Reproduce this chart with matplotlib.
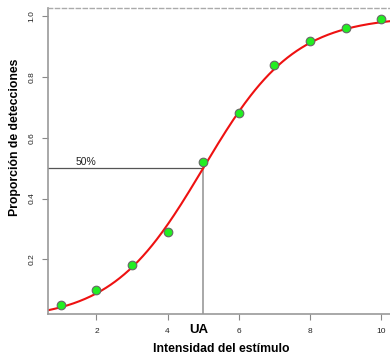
import matplotlib
matplotlib.use('Agg')
import matplotlib.pyplot as plt
import numpy as np

# Data
intensidad = [1, 2, 3, 4, 5, 6, 7, 8, 9, 10]
proporcion = [0.05, 0.10, 0.18, 0.29, 0.52, 0.68, 0.84, 0.92, 0.96, 0.99]

# fitted logistic curve parameters
umbral = 5.0      # UA, 50% point
pendiente = 0.78

x_ticks = [2, 4, 6, 8, 10]
y_ticks = [0.2, 0.4, 0.6, 0.8, 1.0]

plt.rcParams['font.family'] = ['Liberation Sans', 'DejaVu Sans']

fig = plt.figure(figsize=(3.9, 3.56), dpi=100)
ax = fig.add_axes([48 / 390, 42 / 356, 346 / 390, 306 / 356])

xc = np.linspace(0.64, 10.36, 300)
yc = 1.0 / (1.0 + np.exp(-pendiente * (xc - umbral)))

# 50% guide lines
ax.plot([0.64, umbral], [0.5, 0.5], color='#555555', lw=0.9, zorder=1)
ax.plot([umbral, umbral], [0.0, 0.5], color='#999999', lw=1.2, zorder=1)
ax.text(1.7, 0.505, '50%', fontsize=7.5, ha='center', va='bottom',
        color='#222222')

ax.plot(xc, yc, color='#ee1111', lw=1.5, zorder=2)
ax.plot(intensidad, proporcion, 'o', markersize=6.2,
        markerfacecolor='#22ee22', markeredgecolor='#666666',
        markeredgewidth=0.8, zorder=3)

ax.set_xlim(0.64, 10.36)
ax.set_ylim(0.02, 1.027)
ax.set_xticks(x_ticks)
ax.set_yticks(y_ticks)
ax.set_xticklabels([str(t) for t in x_ticks])
ax.set_yticklabels(['%.1f' % t for t in y_ticks], rotation=90, va='center')
ax.tick_params(axis='both', labelsize=6, length=4, width=0.8,
               color='#888888', labelcolor='#222222')
ax.tick_params(axis='x', pad=6)
ax.tick_params(axis='y', pad=5)

for side in ['left', 'bottom']:
    ax.spines[side].set_color('#999999')
    ax.spines[side].set_linewidth(1.2)
ax.spines['top'].set_color('#aaaaaa')
ax.spines['top'].set_linestyle((0, (3, 2)))
ax.spines['top'].set_linewidth(1.0)
ax.spines['right'].set_visible(False)

ax.set_xlabel('Intensidad del estímulo', fontsize=8.8, fontweight='bold')
ax.set_ylabel('Proporción de detecciones', fontsize=8.8, fontweight='bold')
ax.xaxis.label.set_va('center')
ax.yaxis.label.set_va('center')
ax.xaxis.set_label_coords(0.5, (314 - 349) / 306)
ax.yaxis.set_label_coords((15 - 48) / 346, (314 - 137) / 306)

ax.text(umbral - 0.12, -0.012, 'UA', fontsize=9.5, fontweight='bold',
        ha='center', va='top')

fig.savefig('out.png', dpi=100)
